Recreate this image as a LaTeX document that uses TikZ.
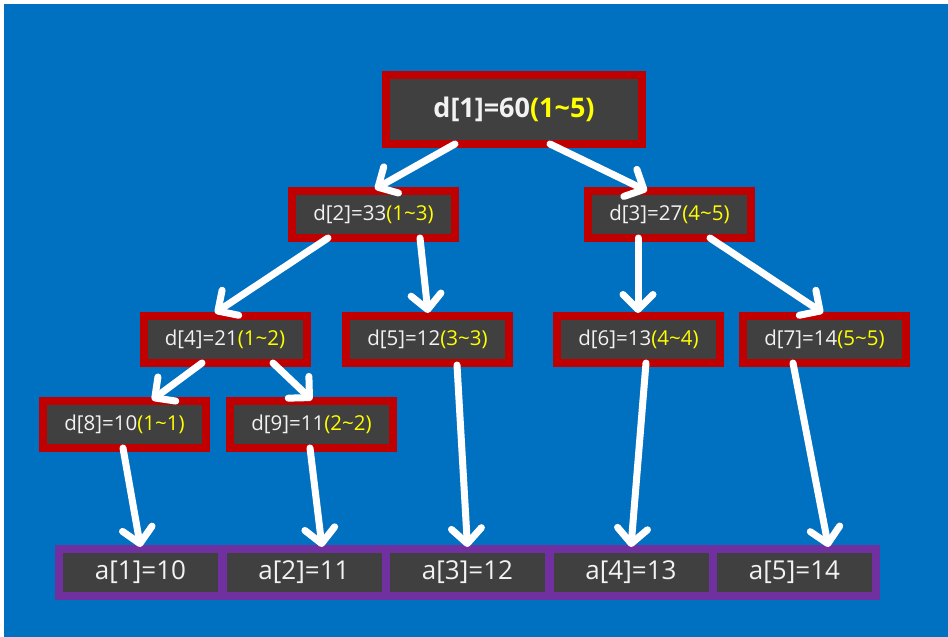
\documentclass[tikz,border=0pt]{standalone}
\usepackage{fontspec}
\setmainfont{Open Sans}
\usetikzlibrary{arrows.meta,calc}
\definecolor{bg}{HTML}{0070C0}
\definecolor{redb}{HTML}{C00000}
\definecolor{grayf}{HTML}{404040}
\definecolor{purp}{HTML}{7030A0}
\definecolor{yel}{HTML}{FFFF00}
\definecolor{txt}{HTML}{F2F2F2}
\newcommand{\rng}[1]{\textcolor{yel}{(#1)}}
\newcommand{\tl}{\textasciitilde}
\begin{document}
\begin{tikzpicture}[x=1pt,y=-1pt,
  dbox/.style={draw=redb,line width=8pt,fill=grayf,text=txt,inner sep=0pt,
    minimum width=163pt,minimum height=47pt,font=\fontsize{20.5}{24}\selectfont},
  rootbox/.style={dbox,minimum width=256pt,minimum height=69pt,
    font=\fontsize{27}{32}\selectfont\bfseries},
  abox/.style={draw=purp,line width=8pt,fill=grayf,text=txt,inner sep=0pt,
    minimum width=163pt,minimum height=47pt,font=\fontsize{26}{30}\selectfont},
  arr/.style={draw=white,line width=7pt,line cap=round,line join=round,
    -{Straight Barb[length=15pt,width=30pt,line cap=round,line join=round]}}]
\useasboundingbox (0,0) rectangle (948,637);
\fill[white] (0,0) rectangle (948,637);
\fill[bg] (4,4) rectangle (948,637);
% tree nodes
\node[rootbox] (d1) at (514,109.5) {d[1]=60\rng{1\tl5}};
\node[dbox] (d2) at (373.5,214.5) {d[2]=33\rng{1\tl3}};
\node[dbox] (d3) at (669.5,214.5) {d[3]=27\rng{4\tl5}};
\node[dbox] (d4) at (225,339.5) {d[4]=21\rng{1\tl2}};
\node[dbox] (d5) at (427.5,339.5) {d[5]=12\rng{3\tl3}};
\node[dbox] (d6) at (638.5,339.5) {d[6]=13\rng{4\tl4}};
\node[dbox] (d7) at (824.5,339.5) {d[7]=14\rng{5\tl5}};
\node[dbox] (d8) at (124.5,424.5) {d[8]=10\rng{1\tl1}};
\node[dbox] (d9) at (311.5,424.5) {d[9]=11\rng{2\tl2}};
% array cells
\node[abox] (a1) at (140.5,572.5) {a[1]=10};
\node[abox] (a2) at (304,572.5) {a[2]=11};
\node[abox] (a3) at (467.5,572.5) {a[3]=12};
\node[abox] (a4) at (631,572.5) {a[4]=13};
\node[abox] (a5) at (794.5,572.5) {a[5]=14};
% arrows
\draw[arr] ([xshift=-59pt,yshift=4pt]d1.south) -- ([xshift=1.5pt,yshift=-2pt]d2.north);
\draw[arr] ([xshift=36pt,yshift=4pt]d1.south) -- ([xshift=-22.5pt,yshift=-4pt]d3.north);
\draw[arr] ([xshift=-45.5pt,yshift=4pt]d2.south) -- ([xshift=-10pt,yshift=-1pt]d4.north);
\draw[arr] ([xshift=46.5pt,yshift=4pt]d2.south) -- ([xshift=0.5pt,yshift=-1pt]d5.north);
\draw[arr] ([xshift=-31.5pt,yshift=4pt]d3.south) -- ([xshift=-0.5pt,yshift=-1pt]d6.north);
\draw[arr] ([xshift=40.5pt,yshift=4pt]d3.south) -- ([xshift=-1.5pt,yshift=-1pt]d7.north);
\draw[arr] ([xshift=-23pt,yshift=4pt]d4.south) -- ([xshift=27.5pt,yshift=-3pt]d8.north);
\draw[arr] ([xshift=48pt,yshift=4pt]d4.south) -- ([xshift=0.5pt,yshift=-3pt]d9.north);
\draw[arr] ([xshift=-1.5pt,yshift=4pt]d8.south) -- ([yshift=-2pt]a1.north);
\draw[arr] ([xshift=-1.5pt,yshift=4pt]d9.south) -- ([xshift=18pt,yshift=-2pt]a2.north);
\draw[arr] ([xshift=29.5pt,yshift=2pt]d5.south) -- ([yshift=-2pt]a3.north);
\draw[arr] ([xshift=7.5pt,yshift=4pt]d6.south) -- ([yshift=-2pt]a4.north);
\draw[arr] ([xshift=-31.5pt,yshift=4pt]d7.south) -- ([xshift=34pt,yshift=-2pt]a5.north);
\end{tikzpicture}
\end{document}
